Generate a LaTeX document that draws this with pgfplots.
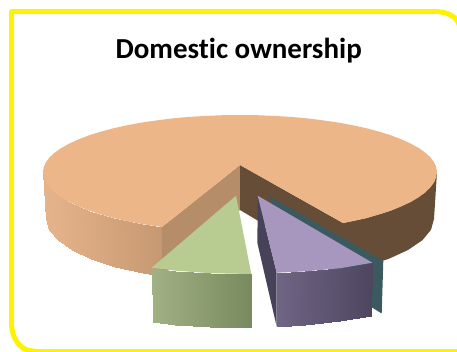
\documentclass[border=0pt]{standalone}
\usepackage{pgfplots}
\pgfplotsset{compat=1.18}
\usepackage{fontspec}
\setmainfont{Carlito}[Ligatures={NoCommon}]
\definecolor{frameY}{HTML}{FFF200}
\definecolor{mainTop}{HTML}{EDB688}
\definecolor{mainCutL}{HTML}{B58D68}
\definecolor{mainCutR}{HTML}{664D38}
\definecolor{tealCut}{HTML}{3B5A60}
\definecolor{purpleTop}{HTML}{A796BD}
\definecolor{purpleCut}{HTML}{474159}
\definecolor{greenTop}{HTML}{B8CB90}
\pgfplotsset{
  colormap={wallMain}{rgb255=(230,180,140) rgb255=(198,152,113)},
  colormap={wallGreen}{rgb255=(160,177,132) rgb255=(122,138,96)},
  colormap={wallPurple}{rgb255=(112,101,132) rgb255=(78,70,96)},
}
\begin{document}
\begin{tikzpicture}
\begin{axis}[
  scale only axis, width=457pt, height=351pt,
  xmin=0, xmax=457, ymin=0, ymax=351, y dir=reverse,
  hide axis, clip=true,
  point meta min=0, point meta max=1,
  every axis plot/.append style={line join=round},
]
% outer frame, running past the right and bottom edges
\addplot[draw=frameY, line width=5pt, forget plot] coordinates {(36,351.5) (470,351.5)};
\addplot[draw=frameY, line width=5pt, forget plot, smooth, tension=0.55] coordinates {(11.5,325) (13.4,335) (19,344.5) (26,349.6) (36.5,351.5)};
\addplot[draw=frameY, line width=5pt, forget plot] coordinates {(11.5,325) (11.5,11.5) (437,11.5)};
\addplot[draw=frameY, line width=5pt, forget plot, smooth, tension=0.55] coordinates {(437,11.5) (447,13.4) (456,19) (460,27) (462,36.5)};

% main slice: outer wall on the left
\addplot[surf, shader=interp, colormap name=wallMain, mesh/cols=8, mesh/rows=2, point meta=explicit, forget plot] coordinates {
 (43,172)[0] (46,182.4)[0.05] (54.9,192.5)[0.1] (69.4,202)[0.22] (89.1,210.6)[0.38] (113.3,218)[0.58] (141.5,224)[0.82] (162,227)[1]
 (46,219)[0] (49,229.8)[0.05] (57.6,240.2)[0.1] (72,250)[0.22] (91.4,258.9)[0.38] (115.3,266.5)[0.58] (143,272.7)[0.82] (162,276)[1]
};
% main slice: outer wall on the right
\addplot[fill=mainCutR, draw=none, forget plot] coordinates {
 (343,223) (366.7,218) (390.9,210.6) (410.6,202) (425.1,192.5) (434,182.4) (437,172)
 (434,219) (431,229.8) (422.4,240.2) (408,250) (388.6,258.9) (364.7,266.5) (343,271.5)} -- cycle;
% main slice: cut faces
\addplot[fill=mainCutL, draw=none, forget plot] coordinates {(240,165) (162,227) (162,276) (240,210)} -- cycle;
\addplot[fill=mainCutR, draw=none, forget plot] coordinates {(240,165) (343,223) (343,271.5) (240,210)} -- cycle;
% main slice: top surface
\addplot[fill=mainTop, draw=none, forget plot] coordinates {
 (240,165) (343,223) (353,221.1) (366.7,218) (379.3,214.4) (390.9,210.6) (401.3,206.4) (410.6,202)
 (418.5,197.4) (425.1,192.5) (430.3,187.5) (434,182.4) (436.2,177.2) (437,172)
 (436.2,167) (434,162.1) (430.3,157.2) (425.1,152.5) (418.5,147.9) (410.6,143.5) (401.3,139.3)
 (390.9,135.3) (379.3,131.7) (366.7,128.3) (353,125.3) (338.5,122.6) (323.3,120.4) (307.4,118.4)
 (291,116.9) (274.3,115.9) (257.1,115.2) (240,115)
 (222.9,115.2) (205.7,115.9) (189,116.9) (172.6,118.4) (156.7,120.4) (141.5,122.6) (127,125.3)
 (113.3,128.3) (100.7,131.7) (89.1,135.3) (78.7,139.3) (69.4,143.5) (61.5,147.9) (54.9,152.5)
 (49.7,157.2) (46,162.1) (43.8,167) (43,172)
 (43.8,177.2) (46,182.4) (49.7,187.5) (54.9,192.5) (61.5,197.4) (69.4,202) (78.7,206.4) (89.1,210.6)
 (100.7,214.4) (113.3,218) (127,221.1) (141.5,224) (162,227)} -- cycle;

% teal slice, mostly hidden behind the purple one
\addplot[fill=tealCut, draw=none, forget plot] coordinates {(267,195) (383.3,261) (381.7,313.5) (360,300) (300,240)} -- cycle;

% purple slice
\addplot[fill=purpleCut, draw=none, forget plot] coordinates {(257.7,195.7) (276.7,272.7) (276.7,326.7) (257.4,243)} -- cycle;
\addplot[surf, shader=interp, colormap name=wallPurple, mesh/cols=4, mesh/rows=2, point meta=explicit, forget plot] coordinates {
 (276.7,272.7)[0] (305,271.4)[0.3] (340,268.3)[0.66] (372.3,262.7)[1]
 (276.7,326.7)[0] (305,325)[0.3] (340,321.3)[0.66] (370.7,315.7)[1]
};
\addplot[fill=purpleTop, draw=none, forget plot] coordinates {(257.7,195.7) (372.3,262.7) (340,268.3) (305,271.4) (276.7,272.7)} -- cycle;

% green slice
\addplot[surf, shader=interp, colormap name=wallGreen, mesh/cols=4, mesh/rows=2, point meta=explicit, forget plot] coordinates {
 (151.7,267.7)[0] (175,270.6)[0.23] (210,273.2)[0.59] (251.3,274)[1]
 (152.7,321.7)[0] (175,324.5)[0.23] (210,327)[0.59] (251.3,327.7)[1]
};
\addplot[fill=greenTop, draw=none, forget plot] coordinates {(236,195.7) (251.3,274) (210,273.2) (175,270.6) (151.7,267.7)} -- cycle;

\node[anchor=base, font=\bfseries\fontsize{29}{29}\selectfont, text=black, inner sep=0pt] at (axis cs:238.7,58) {Domestic ownership};
\end{axis}
\pgfresetboundingbox
\path[use as bounding box] (0,0) rectangle (457pt,351pt);
\end{tikzpicture}
\end{document}
